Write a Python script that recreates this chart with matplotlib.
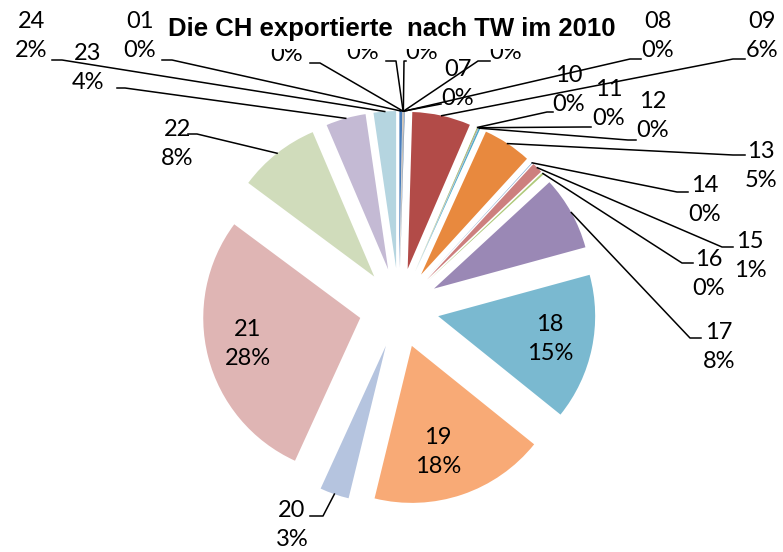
import numpy as np
import matplotlib.pyplot as plt

# HS chapters and their share of the CH export to TW (percent)
categories = ['01', '02', '03', '04', '06', '07', '08', '09', '10', '11', '12',
              '13', '14', '15', '16', '17', '18', '19', '20', '21', '22', '23', '24']
shares = [0.3, 0.02, 0.02, 0.02, 0.03, 0.03, 0.05, 6.0, 0.1, 0.05, 0.15,
          5.0, 0.05, 1.1, 0.2, 7.6, 15.0, 18.0, 3.0, 28.3, 8.4, 4.1, 2.3]
colors = ['#4A7EBB', '#C0504D', '#9BBB59', '#8064A2', '#4BACC6', '#F79646',
          '#3C6AA3', '#B24B48', '#9BBB59', '#8064A2', '#4BACC6',
          '#E8893E', '#4F81BD', '#CD7F7E', '#AFC97A', '#9A88B5', '#7AB9D0',
          '#F8AA76', '#B5C4DF', '#DFB5B4', '#D0DCBB', '#C4BAD4', '#B5D5E0']
title = 'Die CH exportierte  nach TW im 2010'

W, H = 783, 552
CX, CY, R = 399, 308, 157   # pie centre / radius in pixels
EXPL = 40                   # explode distance in pixels

def P(x, y):
    # image pixel -> data coords (pie radius = 1)
    return (x - CX) / R, (CY - y) / R

# label layout in image pixels: text centre, elbow of leader, end of stub
inside = {'18': (550, 339), '19': (438, 452), '21': (248, 344)}
outside = {
    '01': ((140, 36), (172, 60), (162, 60)),
    '02': ((287, 40), (320, 63), (310, 63)),
    '03': ((363, 38), (396, 61), (386, 61)),
    '04': ((422, 38), (404, 61), (406, 61)),
    '06': ((506, 38), (478, 61), (490, 61)),
    '07': ((458, 84), (441, 104), (441, 104)),
    '08': ((658, 36), (630, 59), (641, 59)),
    '09': ((762, 36), (733, 59), (745, 59)),
    '10': ((569, 90), (547, 112), (553, 112)),
    '11': ((609, 104), (583, 127), (591, 127)),
    '12': ((653, 116), (628, 140), (636, 140)),
    '13': ((761, 166), (733, 155), (745, 155)),
    '14': ((705, 200), (677, 192), (688, 192)),
    '15': ((750, 256), (722, 247), (733, 247)),
    '16': ((709, 274), (682, 263), (693, 263)),
    '17': ((719, 347), (690, 338), (701, 338)),
    '20': ((292, 525), (323, 516), (310, 516)),
    '22': ((177, 144), (197, 134), (188, 134)),
    '23': ((88, 68), (125, 88), (117, 88)),
    '24': ((31, 36), (62, 60), (52, 60)),
}

fig = plt.figure(figsize=(W / 100, H / 100), dpi=100)
ax = fig.add_axes([0, 0, 1, 1])
wedges, _ = ax.pie(shares, colors=colors, startangle=90, counterclock=False,
                   explode=[EXPL / R] * len(shares),
                   wedgeprops=dict(linewidth=0))
ax.set_xlim(-CX / R, (W - CX) / R)
ax.set_ylim((CY - H) / R, CY / R)
ax.axis('off')

total = sum(shares)
lab_font = dict(family='Lato', fontsize=17, linespacing=1.5,
                ha='center', va='center', multialignment='center')

for cat, val, w in zip(categories, shares, wedges):
    label = f"{cat}\n{val / total * 100:.0f}%"
    if cat in inside:
        ax.text(*P(*inside[cat]), label, zorder=5, **lab_font)
        continue
    txt, elbow, stub = outside[cat]
    ang = np.deg2rad((w.theta1 + w.theta2) / 2)
    ax_, ay_ = w.center[0] + w.r * np.cos(ang), w.center[1] + w.r * np.sin(ang)
    ex, ey = P(*elbow)
    sx, sy = P(*stub)
    ax.plot([ax_, ex, sx], [ay_, ey, sy], color='black', lw=1.1, zorder=4)
    ax.text(*P(*txt), label, zorder=5, **lab_font)

ax.text(*P(392, 29), title, family='Liberation Sans', fontsize=18.5,
        fontweight='bold', ha='center', va='center', zorder=10,
        bbox=dict(boxstyle='square,pad=0.3', facecolor='white', edgecolor='none'))

fig.savefig('out.png', dpi=100)
